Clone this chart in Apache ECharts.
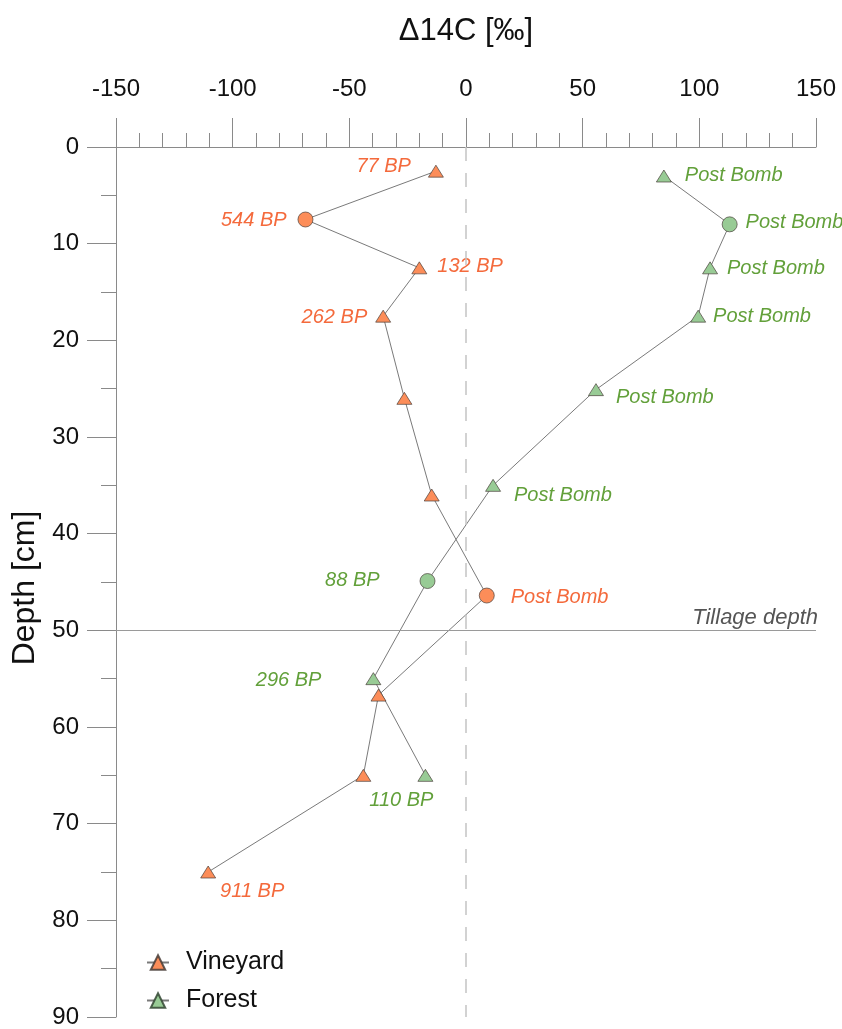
<!DOCTYPE html>
<html>
<head>
<meta charset="utf-8">
<script src="https://cdn.jsdelivr.net/npm/echarts@6/dist/echarts.min.js"></script>
<style>
html,body{margin:0;padding:0;background:#fff;}
#chart{width:842px;height:1029px;}
</style>
</head>
<body>
<div id="chart"></div>
<script>
// ---------------- DATA ----------------
const vineyardDelta = [-12.9, -68.8, -20.0, -35.5, -26.4, -14.7, 8.9, -37.5, -44.0, -110.5];
const vineyardDepth = [2.5, 7.5, 12.5, 17.5, 26.0, 36.0, 46.4, 56.7, 65.0, 75.0];
const vineyardAge = ['77 BP', '544 BP', '132 BP', '262 BP', '', '', 'Post Bomb', '', '', '911 BP'];
const vineyardShape = ['triangle', 'circle', 'triangle', 'triangle', 'triangle', 'triangle', 'circle', 'triangle', 'triangle', 'triangle'];

const forestDelta = [84.8, 113.0, 104.6, 99.5, 55.7, 11.6, -16.5, -39.7, -17.4];
const forestDepth = [3.0, 8.0, 12.5, 17.5, 25.1, 35.0, 44.9, 55.0, 65.0];
const forestAge = ['Post Bomb', 'Post Bomb', 'Post Bomb', 'Post Bomb', 'Post Bomb', 'Post Bomb', '88 BP', '296 BP', '110 BP'];
const forestShape = ['triangle', 'circle', 'triangle', 'triangle', 'triangle', 'triangle', 'circle', 'triangle', 'triangle'];

const tillageDepth = 50;
const tillageLabel = 'Tillage depth';
const seriesNames = ['Vineyard', 'Forest'];
const xAxisTitle = 'Δ14C [‰]';
const yAxisTitle = 'Depth [cm]';

// ---------------- STYLE ----------------
const FONT = '"Liberation Sans", Arial, sans-serif';
const ORANGE_FILL = '#FC8D59';
const ORANGE_TEXT = '#F46A3C';
const GREEN_FILL = '#98CB95';
const GREEN_TEXT = '#62A03A';
const AXIS_COLOR = '#8a8a8a';

const vineyardLabelPlace = [
  {position: 'left', distance: 17, offset: [0, -5]},
  {position: 'left', distance: 11, offset: [0, 1]},
  {position: 'right', distance: 10, offset: [0, -1]},
  {position: 'left', distance: 8, offset: [0, 1]},
  null, null,
  {position: 'right', distance: 16, offset: [0, 2]},
  null, null,
  {position: 'right', distance: 4, offset: [0, 19]}
];
const forestLabelPlace = [
  {position: 'right', distance: 13, offset: [0, -1]},
  {position: 'right', distance: 8, offset: [0, -2]},
  {position: 'right', distance: 9, offset: [0, 1]},
  {position: 'right', distance: 7, offset: [0, 0]},
  {position: 'right', distance: 12, offset: [0, 8]},
  {position: 'right', distance: 13, offset: [0, 10]},
  {position: 'left', distance: 40, offset: [0, -1]},
  {position: 'left', distance: 44, offset: [0, 2]},
  {position: 'bottom', distance: 9, offset: [-24, 0]}
];

function buildData(xs, ys, ages, shapes, places, textColor, fill) {
  return xs.map((x, i) => {
    const p = places[i];
    const item = {
      value: [x, ys[i]],
      symbol: shapes[i],
      symbolSize: shapes[i] === 'circle' ? 15 : [15, 12],
      itemStyle: {color: fill, borderColor: 'rgba(70,60,55,0.85)', borderWidth: 0.8}
    };
    if (p && ages[i]) {
      item.label = {
        show: true,
        formatter: ages[i],
        position: p.position,
        distance: p.distance,
        offset: p.offset,
        color: textColor,
        fontSize: 20,
        fontStyle: 'italic',
        fontFamily: FONT
      };
    } else {
      item.label = {show: false};
    }
    return item;
  });
}

const chart = echarts.init(document.getElementById('chart'), null, {renderer: 'canvas'});

const option = {
  animation: false,
  backgroundColor: '#fff',
  grid: {left: 116, right: 26, top: 147, bottom: 9, containLabel: false},
  legend: {
    orient: 'vertical',
    left: 141,
    top: 945,
    itemWidth: 22,
    itemHeight: 18,
    itemGap: 13,
    textStyle: {fontSize: 25, color: '#111', fontFamily: FONT, padding: [0, 0, 0, 12]},
    data: seriesNames
  },
  xAxis: {
    type: 'value',
    position: 'top',
    min: -150, max: 150, interval: 50,
    name: xAxisTitle,
    nameLocation: 'middle',
    nameGap: 100,
    nameTextStyle: {fontSize: 31, color: '#111', fontFamily: FONT},
    axisLine: {show: true, onZero: false, lineStyle: {color: AXIS_COLOR, width: 1}},
    axisTick: {show: true, length: 29, lineStyle: {color: AXIS_COLOR, width: 1}},
    minorTick: {show: true, splitNumber: 5, length: 14, lineStyle: {color: AXIS_COLOR, width: 1}},
    axisLabel: {fontSize: 24, color: '#111', margin: 46, fontFamily: FONT},
    splitLine: {show: false}
  },
  yAxis: {
    type: 'value',
    inverse: true,
    min: 0, max: 90, interval: 10,
    name: yAxisTitle,
    nameLocation: 'middle',
    nameGap: 69,
    nameTextStyle: {fontSize: 32, color: '#111', fontFamily: FONT, padding: [0, 12, 0, 0]},
    axisLine: {show: true, onZero: false, lineStyle: {color: AXIS_COLOR, width: 1}},
    axisTick: {show: true, length: 29, lineStyle: {color: AXIS_COLOR, width: 1}},
    minorTick: {show: true, splitNumber: 2, length: 15, lineStyle: {color: AXIS_COLOR, width: 1}},
    axisLabel: {fontSize: 24, color: '#111', margin: 37, fontFamily: FONT},
    splitLine: {show: false}
  },
  series: [
    {
      name: seriesNames[0],
      type: 'line',
      z: 3,
      data: buildData(vineyardDelta, vineyardDepth, vineyardAge, vineyardShape, vineyardLabelPlace, ORANGE_TEXT, ORANGE_FILL),
      lineStyle: {color: '#7a7a7a', width: 1},
      itemStyle: {color: ORANGE_FILL, borderColor: 'rgba(70,60,55,0.85)', borderWidth: 0.8},
      symbol: 'triangle',
      symbolSize: [15, 12],
      emphasis: {disabled: true},
      markLine: {
        silent: true,
        symbol: 'none',
        animation: false,
        data: [
          {
            yAxis: tillageDepth,
            lineStyle: {color: '#9a9a9a', width: 1, type: 'solid'},
            label: {show: true, position: 'insideEndTop', formatter: tillageLabel, color: '#555', fontSize: 22, fontStyle: 'italic', fontFamily: FONT, distance: [-2, 1]}
          },
          {
            xAxis: 0,
            lineStyle: {color: '#c4c4c4', width: 1.5, type: [14, 12]},
            label: {show: false}
          }
        ]
      }
    },
    {
      name: seriesNames[1],
      type: 'line',
      z: 2,
      data: buildData(forestDelta, forestDepth, forestAge, forestShape, forestLabelPlace, GREEN_TEXT, GREEN_FILL),
      lineStyle: {color: '#7a7a7a', width: 1},
      itemStyle: {color: GREEN_FILL, borderColor: 'rgba(50,70,50,0.85)', borderWidth: 0.8},
      symbol: 'triangle',
      symbolSize: [15, 12],
      emphasis: {disabled: true}
    }
  ]
};
chart.setOption(option);
</script>
</body>
</html>
